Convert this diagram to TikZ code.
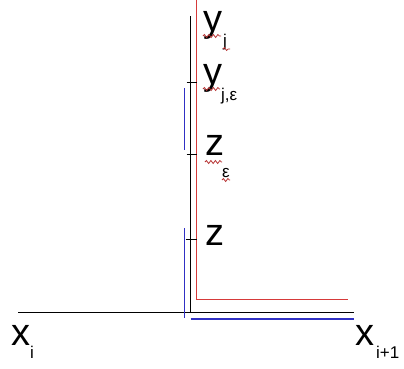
\documentclass[tikz,border=0pt]{standalone}
\usepackage{fontspec}
\setmainfont{Liberation Sans}
\usetikzlibrary{decorations.pathmorphing}
\definecolor{lred}{RGB}{214,58,58}
\definecolor{lblue}{RGB}{48,48,196}
\begin{document}
\begin{tikzpicture}[x=1pt,y=-1pt,
  lbl/.style={anchor=base west,inner sep=0pt,font=\fontsize{38}{40}\selectfont},
  sub/.style={anchor=base west,inner sep=0pt,font=\fontsize{17}{19}\selectfont},
  blk/.style={draw=black,line width=1.3pt},
  rl/.style={draw=lred,line width=1.2pt},
  bl/.style={draw=lblue,line width=1.2pt},
  tick/.style={draw=black,line width=1pt},
  squig/.style={draw=lred!85!black,line width=0.8pt,decorate,decoration={snake,amplitude=1.5pt,segment length=4.5pt}}]
\useasboundingbox (0,0) rectangle (404,368);
% coordinates
\coordinate (hl) at (18,312.7);
\coordinate (hr) at (354,312.7);
\coordinate (vt) at (190.7,16);
\coordinate (vb) at (190.7,312.7);
\coordinate (rt) at (196.7,0);
\coordinate (rc) at (196.7,299.3);
\coordinate (rr) at (348,299.3);
\coordinate (bhl) at (190.7,319);
\coordinate (bhr) at (354,319);
\coordinate (bvt) at (184.3,228);
\coordinate (bvb) at (184.3,318);
\coordinate (but) at (184.3,88);
\coordinate (bub) at (184.3,150);
\coordinate (t1l) at (186.5,82);  \coordinate (t1r) at (196.7,82);
\coordinate (t2l) at (186.5,154); \coordinate (t2r) at (196.7,154);
\coordinate (t3l) at (185.5,239); \coordinate (t3r) at (196.7,239);
% lines
\draw[blk] (hl) -- (hr);
\draw[blk] (vt) -- (vb);
\draw[rl] (rt) -- (rc) -- (rr);
\draw[bl] (bhl) -- (bhr);
\draw[bl] (bvt) -- (bvb);
\draw[bl] (but) -- (bub);
\draw[tick] (t1l) -- (t1r);
\draw[tick] (t2l) -- (t2r);
\draw[tick] (t3l) -- (t3r);
% labels
\node[lbl] (yj) at (203,31) {y};
\node[sub] (yjs) at (223,46) {j};
\node[lbl] (yje) at (203,84) {y};
\node[sub] (yjes) at (221,100) {j,ε};
\node[lbl] (ze) at (205,155) {z};
\node[sub] (zes) at (222,177) {ε};
\node[lbl] (z) at (205,245) {z};
\node[lbl] (xi) at (11,345) {x};
\node[sub] (xis) at (30,358) {i};
\node[lbl] (xi1) at (355,345) {x};
\node[sub] (xi1s) at (376,358) {i+1};
% spell-check squiggles
\draw[squig] (203,36) -- (221,36);
\draw[squig] (223,49) -- (230,49);
\draw[squig] (203,89) -- (220,89);
\draw[squig] (205,162) -- (222,162);
\draw[squig] (222,180) -- (230,180);
\end{tikzpicture}
\end{document}
